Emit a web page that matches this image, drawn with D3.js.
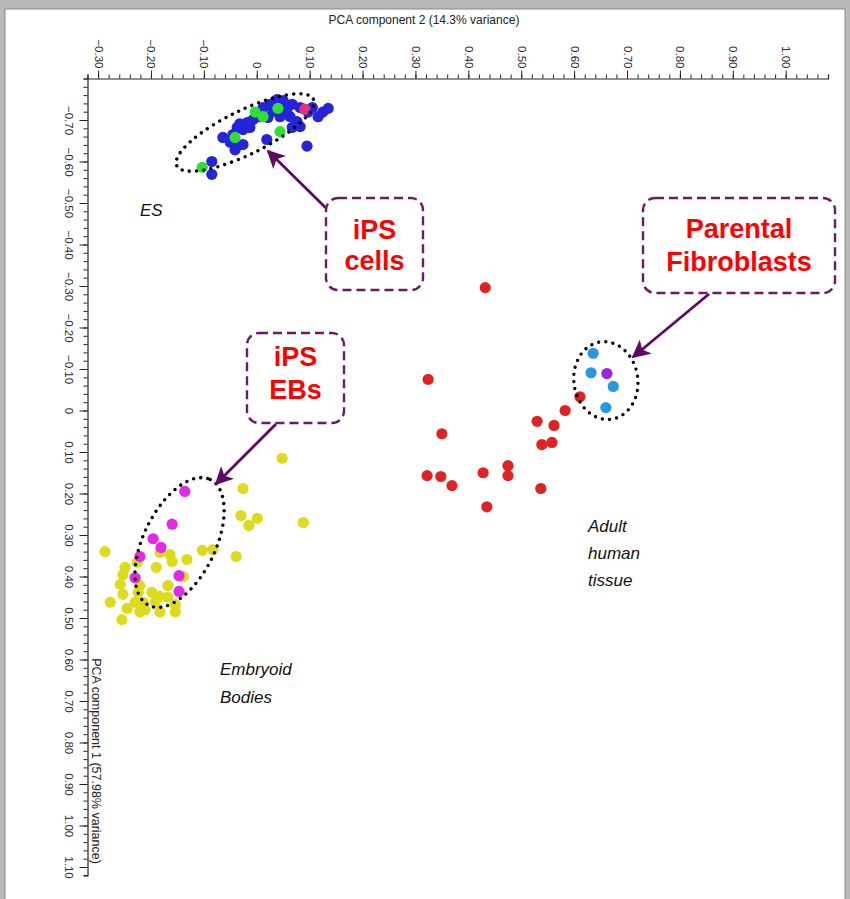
<!DOCTYPE html>
<html>
<head>
<meta charset="utf-8">
<script src="https://cdn.jsdelivr.net/npm/d3@7"></script>
<style>
  html, body { margin: 0; padding: 0; background: #fff; }
  svg { display: block; }
</style>
</head>
<body>
<svg id="chart" width="850" height="899"></svg>
<script>
// ---------------- DATA (PCA component 2 = x, PCA component 1 = y) ----------------
const xMajorTicks = [-0.3, -0.2, -0.1, 0, 0.1, 0.2, 0.3, 0.4, 0.5, 0.6, 0.7, 0.8, 0.9, 1.0];
const yMajorTicks = [-0.7, -0.6, -0.5, -0.4, -0.3, -0.2, -0.1, 0, 0.1, 0.2, 0.3, 0.4, 0.5, 0.6, 0.7, 0.8, 0.9, 1.0, 1.1];
const xTitle = "PCA component 2 (14.3% variance)";
const yTitle = "PCA component 1 (57.98% variance)";

// ES cells (blue)
const esX = [0.135,0.125,0.116,0.097,0.082,0.067,0.050,0.038,0.025,0.012,0.031,0.044,0.063,0.076,0.082,0.067,0.006,-0.007,-0.018,-0.032,-0.037,-0.026,-0.013,0.019,0.095,-0.064,-0.050,-0.037,-0.026,-0.041,-0.085,-0.085,0.057,0.021,-0.045,0.105];
const esY = [-0.728,-0.719,-0.708,-0.719,-0.730,-0.738,-0.747,-0.749,-0.738,-0.730,-0.721,-0.708,-0.708,-0.696,-0.684,-0.682,-0.708,-0.701,-0.694,-0.691,-0.682,-0.677,-0.682,-0.653,-0.637,-0.658,-0.646,-0.637,-0.641,-0.628,-0.600,-0.569,-0.726,-0.706,-0.665,-0.730];
// iPS cells (green)
const ipsX = [-0.103,-0.041,-0.003,0.012,0.044,0.040];
const ipsY = [-0.586,-0.658,-0.719,-0.708,-0.672,-0.728];
// other cell line (pink)
const pinkX = [0.091];
const pinkY = [-0.726];
// Embryoid bodies (yellow)
const ebX = [0.048,-0.026,-0.030,0.001,-0.015,0.088,-0.039,-0.083,-0.103,-0.132,-0.164,-0.160,-0.183,-0.190,-0.226,-0.287,-0.249,-0.253,-0.258,-0.221,-0.253,-0.168,-0.139,-0.198,-0.183,-0.215,-0.168,-0.154,-0.277,-0.245,-0.221,-0.183,-0.154,-0.255,-0.211,-0.192,-0.230,-0.224];
const ebY = [0.115,0.188,0.253,0.260,0.277,0.270,0.352,0.335,0.337,0.359,0.347,0.364,0.342,0.378,0.366,0.340,0.378,0.395,0.419,0.422,0.443,0.422,0.400,0.438,0.448,0.462,0.450,0.468,0.462,0.477,0.485,0.485,0.485,0.504,0.480,0.462,0.462,0.438];
// iPS embryoid bodies (magenta)
const ipsEbX = [-0.136,-0.160,-0.196,-0.181,-0.221,-0.230,-0.147,-0.147];
const ipsEbY = [0.195,0.274,0.309,0.330,0.352,0.403,0.398,0.436];
// Adult human tissue (red)
const adultX = [0.432,0.324,0.611,0.583,0.530,0.562,0.350,0.539,0.558,0.475,0.475,0.428,0.322,0.348,0.369,0.537,0.435];
const adultY = [-0.296,-0.075,-0.033,0.000,0.026,0.036,0.056,0.082,0.077,0.133,0.157,0.150,0.157,0.159,0.181,0.188,0.232];
// Parental fibroblasts (light blue) and one purple
const fibX = [0.636,0.632,0.674,0.660];
const fibY = [-0.138,-0.091,-0.058,-0.007];
const purpleX = [0.662];
const purpleY = [-0.089];

// ---------------- LAYOUT ----------------
const svg = d3.select("#chart");
const font = "Arial, 'Liberation Sans', Helvetica, sans-serif";

// frame
svg.append("rect").attr("x",0).attr("y",0).attr("width",850).attr("height",899).attr("fill","#b9b9b9");
svg.append("rect").attr("x",5).attr("y",9).attr("width",840).attr("height",895)
  .attr("fill","#fff").attr("stroke","#8a8a8a").attr("stroke-width",1);

const x = d3.scaleLinear().domain([-0.32, 1.08]).range([87.5, 828]);
const y = d3.scaleLinear().domain([-0.80, 1.12]).range([78.5, 875.3]);

const xMinor = d3.range(-32, 109, 2).map(v => v / 100);
const yMinor = d3.range(-80, 113, 2).map(v => v / 100);
const fmt = v => Math.abs(v) < 1e-9 ? "0" : d3.format(".2f")(v);

// top axis
svg.append("g").attr("transform", `translate(0,${y(-0.80)})`)
  .call(d3.axisTop(x).tickValues(xMinor).tickSize(4).tickFormat(""));
const gTop = svg.append("g").attr("transform", `translate(0,${y(-0.80)})`)
  .call(d3.axisTop(x).tickValues(xMajorTicks).tickSize(8).tickFormat(fmt));
gTop.select(".domain").remove();
gTop.selectAll("text")
  .attr("x", 0).attr("y", 0).attr("dy", null)
  .attr("text-anchor", "end")
  .attr("dominant-baseline", "central")
  .attr("transform", "translate(0,-10) rotate(90)")
  .attr("font-family", font).attr("font-size", 11.5).attr("fill", "#2a2a2a");

// left axis
svg.append("g").attr("transform", `translate(${x(-0.32)},0)`)
  .call(d3.axisLeft(y).tickValues(yMinor).tickSize(4).tickFormat(""));
const gLeft = svg.append("g").attr("transform", `translate(${x(-0.32)},0)`)
  .call(d3.axisLeft(y).tickValues(yMajorTicks).tickSize(8).tickFormat(fmt));
gLeft.select(".domain").remove();
gLeft.selectAll("text")
  .attr("x", 0).attr("y", 0).attr("dy", null)
  .attr("text-anchor", "middle")
  .attr("transform", "translate(-23,0) rotate(90)")
  .attr("font-family", font).attr("font-size", 11.5).attr("fill", "#2a2a2a");

svg.selectAll(".domain").attr("stroke", "#222").attr("stroke-width", 1.2);
svg.selectAll(".tick line").attr("stroke", "#222").attr("stroke-width", 1);

// axis titles
svg.append("text").attr("x", 424).attr("y", 24).attr("text-anchor", "middle")
  .attr("font-family", font).attr("font-size", 12).attr("fill", "#222").text(xTitle);
svg.append("text").attr("transform", `translate(92,${761}) rotate(90)`).attr("text-anchor", "middle")
  .attr("font-family", font).attr("font-size", 12.5).attr("fill", "#222").text(yTitle);

// ---------------- POINTS ----------------
function drawPoints(xs, ys, color) {
  svg.append("g").selectAll("circle")
    .data(xs.map((v, i) => [v, ys[i]]))
    .join("circle")
    .attr("cx", d => x(d[0])).attr("cy", d => y(d[1]))
    .attr("r", 5.6).attr("fill", color);
}
drawPoints(esX, esY, "#2424d8");
drawPoints(ipsX, ipsY, "#30e030");
drawPoints(pinkX, pinkY, "#e8307a");
drawPoints(ebX, ebY, "#dcdc1c");
drawPoints(ipsEbX, ipsEbY, "#e22ae2");
drawPoints(adultX, adultY, "#e02222");
drawPoints(fibX, fibY, "#2898e0");
drawPoints(purpleX, purpleY, "#9a26e0");

// ---------------- ANNOTATIONS ----------------
function dottedEllipse(cx, cy, rx, ry, rot) {
  svg.append("ellipse")
    .attr("transform", `translate(${x(cx)},${y(cy)}) rotate(${rot})`)
    .attr("rx", rx).attr("ry", ry)
    .attr("fill", "none").attr("stroke", "#000")
    .attr("stroke-width", 3.4).attr("stroke-linecap", "round")
    .attr("stroke-dasharray", "0 7.2");
}
dottedEllipse(-0.022, -0.670, 76, 22, -26);
dottedEllipse(-0.146, 0.318, 70, 36, -64);
dottedEllipse(0.660, -0.072, 32, 39, -8);

const purple = "#5e0a5e";
const defs = svg.append("defs");
defs.append("marker").attr("id", "ah").attr("viewBox", "0 0 10 10")
  .attr("refX", 9).attr("refY", 5).attr("markerWidth", 7).attr("markerHeight", 6.5)
  .attr("markerUnits", "strokeWidth").attr("orient", "auto")
  .append("path").attr("d", "M0,0 L10,5 L0,10 L2.5,5 Z").attr("fill", purple);

function arrow(x1, y1, x2, y2) {
  svg.append("line").attr("x1", x1).attr("y1", y1).attr("x2", x2).attr("y2", y2)
    .attr("stroke", purple).attr("stroke-width", 2.8).attr("marker-end", "url(#ah)");
}
arrow(328, 210, 268, 151);
arrow(709, 294, 633, 357);
arrow(276, 424, 216, 484);

function box(bx, by, bw, bh, lines, lineY) {
  svg.append("rect").attr("x", bx).attr("y", by).attr("width", bw).attr("height", bh)
    .attr("rx", 12).attr("ry", 12).attr("fill", "#fff")
    .attr("stroke", "#6a1a6a").attr("stroke-width", 2.4).attr("stroke-dasharray", "9 5");
  lines.forEach((t, i) => {
    svg.append("text").attr("x", bx + bw / 2).attr("y", lineY[i]).attr("text-anchor", "middle")
      .attr("font-family", font).attr("font-weight", "bold").attr("font-size", 27)
      .attr("fill", "#ff0000").text(t);
  });
}
box(326, 198, 97, 92, ["iPS", "cells"], [239, 270]);
box(643, 198, 192, 95, ["Parental", "Fibroblasts"], [238, 271]);
box(247, 333, 97, 90, ["iPS", "EBs"], [366, 399]);

function label(lx, lines, ys) {
  lines.forEach((t, i) => {
    svg.append("text").attr("x", lx).attr("y", ys[i])
      .attr("font-family", font).attr("font-style", "italic").attr("font-size", 17)
      .attr("fill", "#111").text(t);
  });
}
label(140, ["ES"], [216]);
label(588, ["Adult", "human", "tissue"], [532, 559, 586]);
label(220, ["Embryoid", "Bodies"], [675, 703]);
</script>
</body>
</html>
